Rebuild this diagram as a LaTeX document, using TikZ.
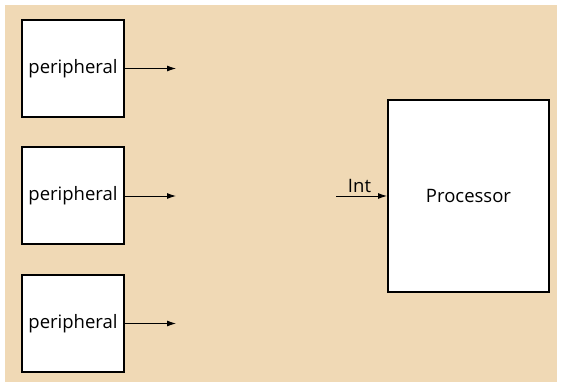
\documentclass[tikz,border=0pt]{standalone}
\usepackage{fontspec}
\setmainfont{Open Sans}
\usetikzlibrary{positioning, calc, arrows.meta}
\definecolor{bgtan}{HTML}{F0D9B5}
\begin{document}
\begin{tikzpicture}[x=1pt, y=-1pt,
		unit/.style={draw, line width=2pt, fill=white, inner sep=0pt, font=\fontsize{18.5}{22}\selectfont},
		sig/.style={-{Latex[length=9pt, width=6pt]}, line width=0.9pt}]
	\useasboundingbox (0,0) rectangle (562,387);
	\fill[bgtan] (5,5) rectangle (557,382);
	\foreach \j in {1,2,3} {
		\node[unit, minimum width=102pt, minimum height=97pt] (per\j) at (73,{68.5+127.5*(\j-1)}) {peripheral};
		\coordinate (out\j) at ($(per\j.east)+(51,0)$);
		\draw[sig] (per\j.east) -- (out\j);
	}
	\node[unit, minimum width=161pt, minimum height=192pt] (cpu) at (468.5,196) {Processor};
	\coordinate (intin) at (336,196);
	\draw[sig] (intin) -- (cpu.west) node[midway, above, xshift=-2pt, font=\fontsize{18.5}{22}\selectfont]{Int};
\end{tikzpicture}
\end{document}
